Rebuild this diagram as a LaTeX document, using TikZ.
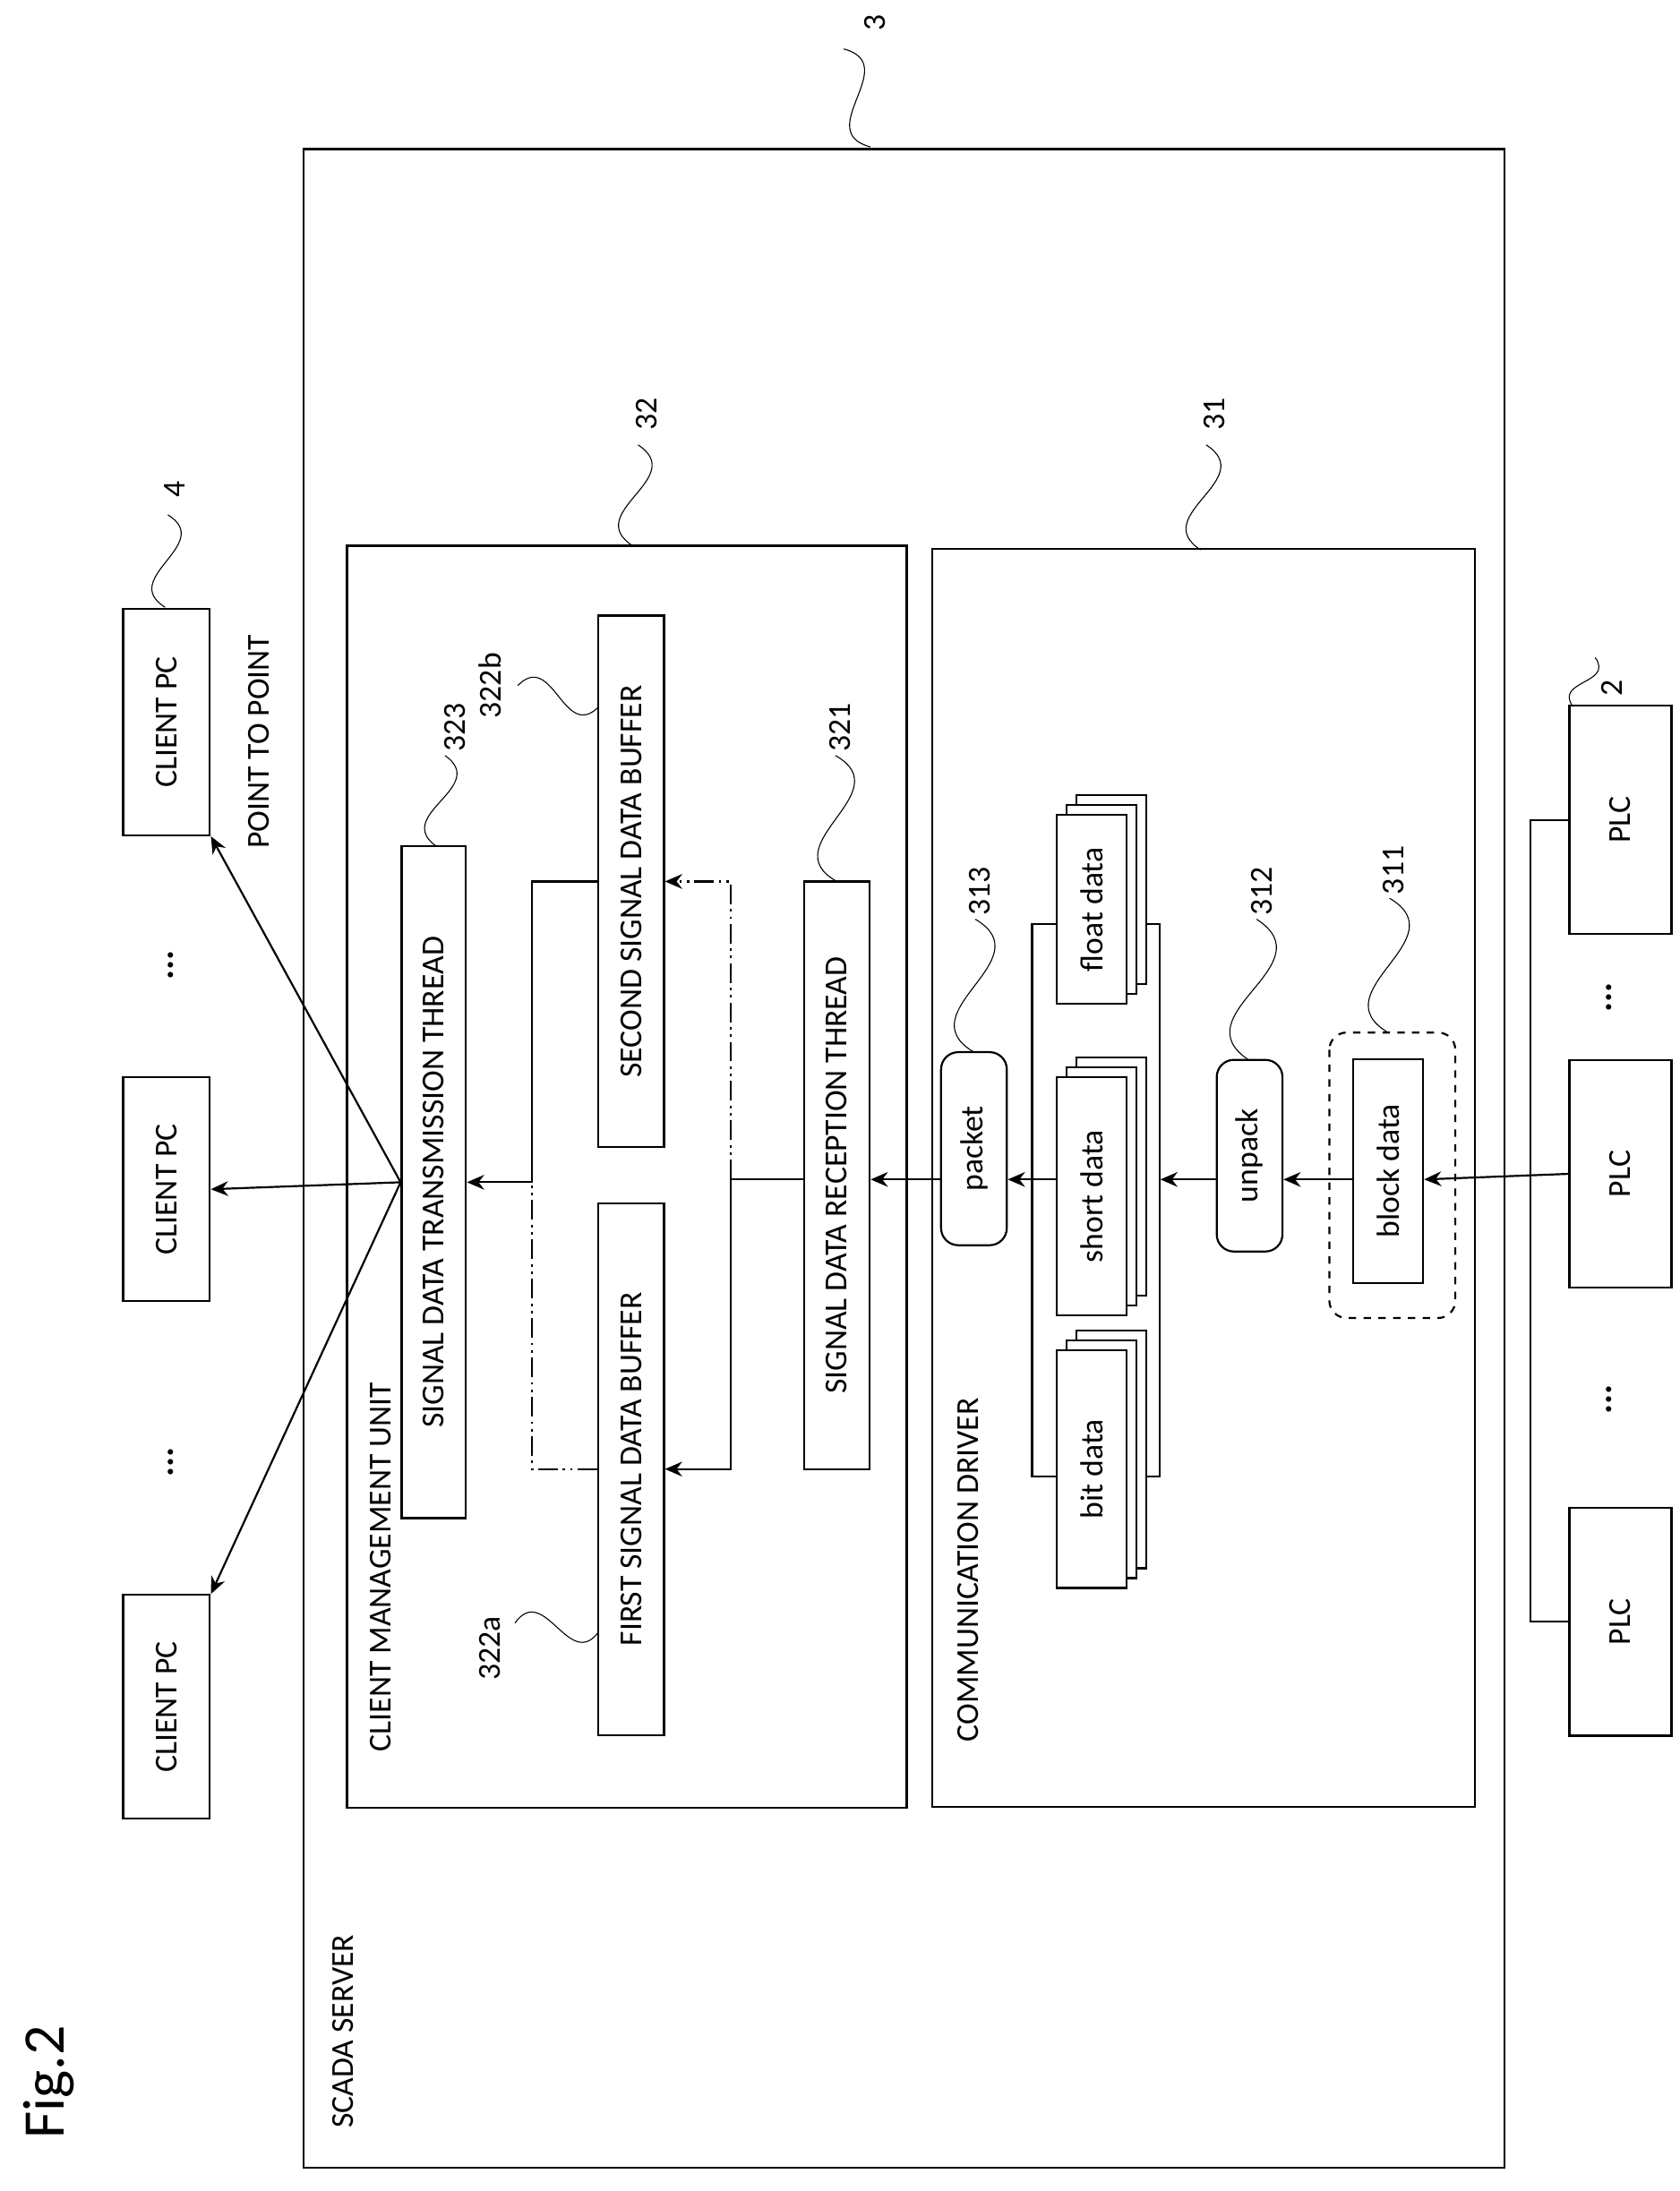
\documentclass[tikz,border=0pt]{standalone}
\usepackage{fontspec}
\setmainfont{Carlito}
\usetikzlibrary{positioning, calc, arrows.meta, shadows}
\tikzset{%
  block/.style    = {draw, thick, rectangle, rotate = 90, inner sep = 0pt,
    font = \fontsize{13}{15}\selectfont},
  rblock/.style   = {block, rounded corners = 7pt},
  stack/.style    = {block, fill = white,
    double copy shadow = {shadow xshift = 4pt, shadow yshift = 4pt, draw, thick}},
  frame/.style    = {draw, thick, rectangle, inner sep = 0pt},
  txt/.style      = {rotate = 90, font = \fontsize{13}{15}\selectfont},
  arr/.style      = {-{Stealth[length = 7pt, width = 6pt]}, thick},
  dashdot/.style  = {dash pattern = on 8pt off 2pt on 1pt off 2pt on 1pt off 2pt}
}
\newcommand{\lead}[2]{\draw (#1) .. controls ($(#1)!0.6!60:(#2)$) and ($(#2)!0.6!60:(#1)$) .. (#2);}

\begin{document}
\begin{tikzpicture}[x = 0.02cm, y = -0.02cm]
\useasboundingbox (0,0) rectangle (1200,1566);
% frames
\node [frame, minimum width = 858*0.02cm, minimum height = 1443*0.02cm] (scada) at (646,828) {};
\node [frame, minimum width = 400*0.02cm, minimum height = 902*0.02cm] (cmu) at (448,841) {};
\node [frame, minimum width = 388*0.02cm, minimum height = 899*0.02cm] (cd) at (860,842) {};
\node [txt] at (245,1452) {SCADA SERVER};
\node [txt] at (272,1120) {CLIENT MANAGEMENT UNIT};
\node [txt] at (692,1122) {COMMUNICATION DRIVER};
\node [txt, font = \fontsize{24}{26}\selectfont] at (35,1488) {Fig.2};
% client management blocks
\node [block, minimum width = 480*0.02cm, minimum height = 46*0.02cm] (trans) at (310,845) {SIGNAL DATA TRANSMISSION THREAD};
\node [block, minimum width = 380*0.02cm, minimum height = 47*0.02cm] (buf1) at (451,1050) {FIRST SIGNAL DATA BUFFER};
\node [block, minimum width = 380*0.02cm, minimum height = 47*0.02cm] (buf2) at (451,630) {SECOND SIGNAL DATA BUFFER};
\node [block, minimum width = 420*0.02cm, minimum height = 47*0.02cm] (recv) at (598,840) {SIGNAL DATA RECEPTION THREAD};
% communication driver blocks
\node [rblock, minimum width = 138*0.02cm, minimum height = 47*0.02cm] (pkt) at (696,821) {packet};
\node [block, minimum width = 395*0.02cm, minimum height = 91*0.02cm] (grp) at (783,858) {};
\node [stack, minimum width = 135*0.02cm, minimum height = 50*0.02cm] (flt) at (780,650) {float data};
\node [stack, minimum width = 170*0.02cm, minimum height = 50*0.02cm] (sht) at (780,855) {short data};
\node [stack, minimum width = 170*0.02cm, minimum height = 50*0.02cm] (bit) at (780,1050) {bit data};
\node [rblock, minimum width = 137*0.02cm, minimum height = 47*0.02cm] (unp) at (893,826) {unpack};
\node [rblock, dashed, minimum width = 204*0.02cm, minimum height = 90*0.02cm] (grpb) at (995,840) {};
\node [block, minimum width = 160*0.02cm, minimum height = 50*0.02cm] (blk) at (992,837) {block data};
% plc and client pc
\node [block, minimum width = 163*0.02cm, minimum height = 73*0.02cm] (plc1) at (1158,586) {PLC};
\node [block, minimum width = 163*0.02cm, minimum height = 73*0.02cm] (plc2) at (1158,839) {PLC};
\node [block, minimum width = 163*0.02cm, minimum height = 73*0.02cm] (plc3) at (1158,1159) {PLC};
\node [block, minimum width = 162*0.02cm, minimum height = 62*0.02cm] (pc1) at (119,516) {CLIENT PC};
\node [block, minimum width = 160*0.02cm, minimum height = 62*0.02cm] (pc2) at (119,850) {CLIENT PC};
\node [block, minimum width = 160*0.02cm, minimum height = 62*0.02cm] (pc3) at (119,1220) {CLIENT PC};
\node [txt, font = \bfseries\fontsize{15}{15}\selectfont] at (122,690) {...};
\node [txt, font = \bfseries\fontsize{15}{15}\selectfont] at (122,1045) {...};
\node [txt, font = \bfseries\fontsize{15}{15}\selectfont] at (1150,713) {...};
\node [txt, font = \bfseries\fontsize{15}{15}\selectfont] at (1150,1000) {...};
\node [txt] at (185,530) {POINT TO POINT};
% data lines
\coordinate (chain) at (0,843);
\coordinate (j) at (522,843);
\coordinate (k) at (380,845);
\draw[thick] (plc1.north) -- ++(-27,0) |- (plc3.north);
\draw[arr] (plc2.north) -- (blk.south|-chain);
\draw[arr] (blk.north|-chain) -- (unp.south|-chain);
\draw[arr] (unp.north|-chain) -- (grp.south|-chain);
\draw[arr] (sht.north|-chain) -- (pkt.south|-chain);
\draw[arr] (pkt.north|-chain) -- (recv.south|-chain);
\draw[thick] (recv.north|-chain) -- (j);
\draw[arr] (j) |- (buf1.south);
\draw[arr, dashdot] (j) |- (buf2.south);
\draw[arr] (buf2.north) -| (k) -- (trans.south);
\draw[thick, dashdot] (buf1.north) -| (k);
\draw[arr] (trans.north) -- (pc1.south west);
\draw[arr] (trans.north) -- (pc2.south);
\draw[arr] (trans.north) -- (pc3.south east);
% reference labels
\node [txt] at (625,16) {3};
\node [txt] at (125,350) {4};
\node [txt] at (1152,492) {2};
\node [txt] at (462,296) {32};
\node [txt] at (868,296) {31};
\node [txt] at (325,520) {323};
\node [txt] at (350,490) {322b};
\node [txt] at (600,520) {321};
\node [txt] at (700,637) {313};
\node [txt] at (902,637) {312};
\node [txt] at (996,622) {311};
\node [txt] at (350,1178) {322a};
\lead{603,35}{622,105}
\lead{120,368}{118,434}
\lead{1140,470}{1124,505}
\lead{456,318}{452,390}
\lead{862,318}{858,393}
\lead{318,540}{312,605}
\lead{370,490}{428,505}
\lead{597,540}{598,630}
\lead{697,657}{696,752}
\lead{898,657}{893,758}
\lead{993,642}{992,738}
\lead{368,1160}{428,1166}
\end{tikzpicture}
\end{document}
